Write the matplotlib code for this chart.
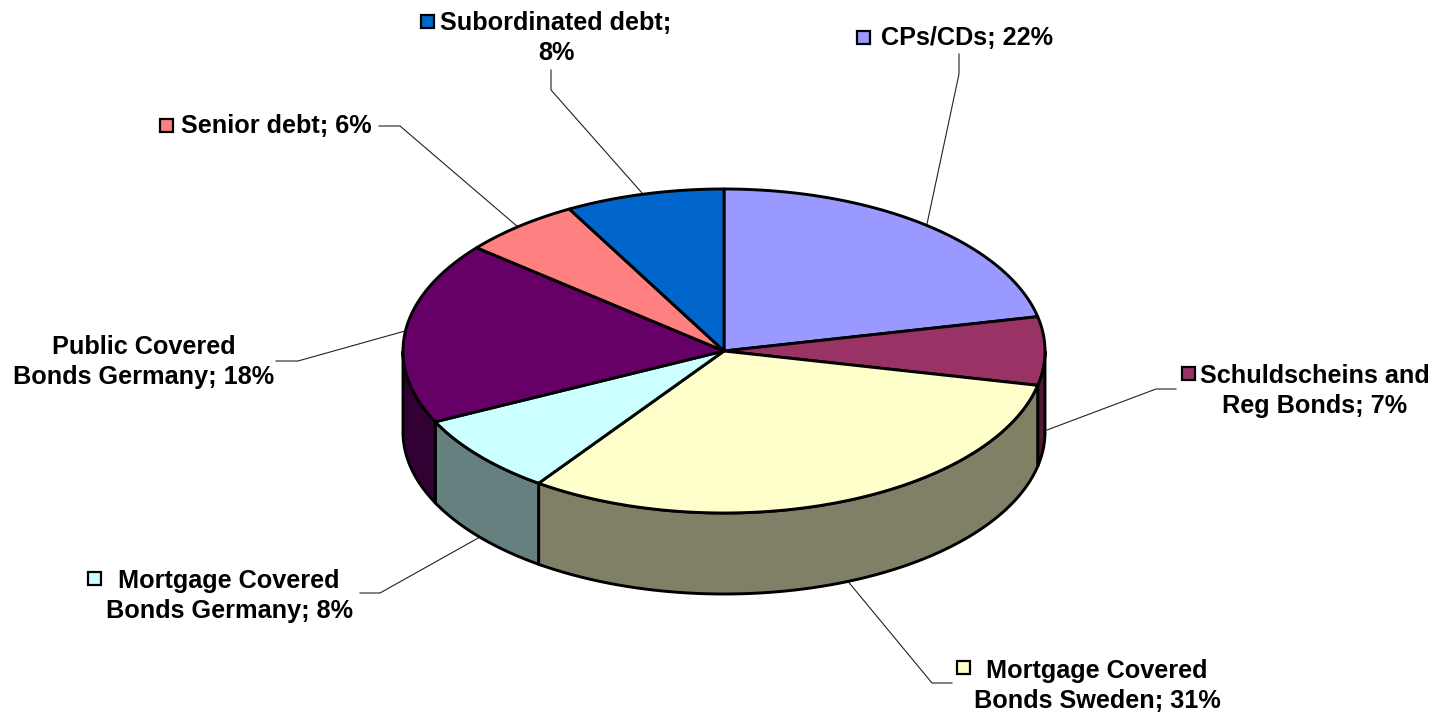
import numpy as np
import matplotlib
matplotlib.use("Agg")
import matplotlib.pyplot as plt
from matplotlib.patches import Polygon, Rectangle

plt.rcParams["font.family"] = ["Liberation Sans", "DejaVu Sans"]

# clockwise from 12 o'clock, shares
categories = [
    "CPs/CDs",
    "Schuldscheins and\nReg Bonds",
    "Mortgage Covered\nBonds Sweden",
    "Mortgage Covered\nBonds Germany",
    "Public Covered\nBonds Germany",
    "Senior debt",
    "Subordinated debt",
]
shares = [21.6, 6.8, 31.4, 8.0, 18.2, 6.0, 8.0]
separators = ["; ", "; ", "; ", "; ", "; ", "; ", ";\n"]
colors = ["#9999FF", "#993366", "#FFFFCC", "#CCFFFF", "#660066", "#FF8080", "#0066CC"]
side_colors = ["#4D4D80", "#4D1A33", "#808066", "#668080", "#330033", "#804040", "#003366"]

# layout in image pixels
cx, cy, rx, ry = 724, 351, 321, 162
depth = 81
label_pos = [
    (967, 38),
    (1315, 391),
    (1097, 686),
    (229, 596),
    (144, 362),
    (276, 126),
    (556, 38),
]
key_pos = [(863, 37), (1188, 373), (963, 667), (94, 578), (None, None), (166, 125), (427, 21)]
leaders = [
    [(959, 54), (959, 74), (927, 224)],
    [(1176, 389), (1156, 389), (1047, 430)],
    [(952, 683), (932, 683), (846, 579)],
    [(360, 593), (380, 593), (480, 537)],
    [(276, 361), (298, 361), (405, 331)],
    [(379, 126), (400, 126), (518, 227)],
    [(551, 70), (551, 90), (642, 193)],
]


def ellipse_xy(deg, dy=0):
    t = np.radians(deg)
    return np.column_stack([cx + rx * np.cos(t), cy + dy - ry * np.sin(t)])


fig = plt.figure(figsize=(14.34, 7.13), dpi=100)
ax = fig.add_axes([0, 0, 1, 1])
ax.set_xlim(0, 1434)
ax.set_ylim(713, 0)
ax.axis("off")

edges = 90 - np.cumsum([0] + shares) * 3.6
lw = 2.1

# walls first, only the part of a slice that faces the viewer
for i in range(len(shares)):
    a0, a1 = edges[i], edges[i + 1]
    for lo, hi in [(-180, 0), (-540, -360)]:
        start, end = min(a0, hi), max(a1, lo)
        if start > end:
            t = np.linspace(start, end, 120)
            wall = np.vstack([ellipse_xy(t), ellipse_xy(t[::-1], depth)])
            ax.add_patch(Polygon(wall, closed=True, fc=side_colors[i], ec="black", lw=lw, zorder=2))

# top face
for i in range(len(shares)):
    t = np.linspace(edges[i], edges[i + 1], 160)
    top = np.vstack([[cx, cy], ellipse_xy(t)])
    ax.add_patch(Polygon(top, closed=True, fc=colors[i], ec="black", lw=lw, joinstyle="round", zorder=3))

# leader lines, labels, legend keys
for i, name in enumerate(categories):
    xs, ys = zip(*leaders[i])
    ax.plot(xs, ys, color="#222222", lw=0.8, zorder=1, solid_joinstyle="miter")
    x, y = label_pos[i]
    ax.text(x, y, f"{name}{separators[i]}{round(shares[i])}%", ha="center", va="center",
            multialignment="center", fontsize=18.2, fontweight="bold", color="black",
            linespacing=1.28, zorder=5)
    kx, ky = key_pos[i]
    if kx is not None:
        ax.add_patch(Rectangle((kx - 6.5, ky - 6.5), 13, 13, fc=colors[i], ec="black", lw=1.6, zorder=5))

fig.savefig("out.png", dpi=100, facecolor="white")
